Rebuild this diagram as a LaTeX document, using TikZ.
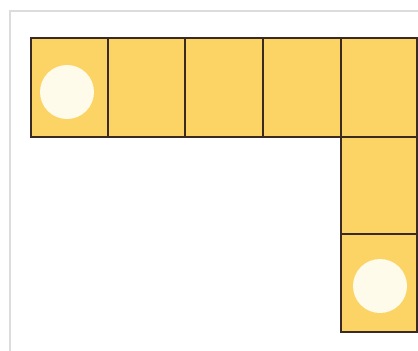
\documentclass[tikz,border=0pt]{standalone}
\definecolor{cellyellow}{HTML}{FBD465}
\definecolor{cream}{HTML}{FFFBEA}
\definecolor{edge}{HTML}{3A2A22}
\definecolor{frame}{HTML}{DCDCDC}
\tikzset{
  cell/.style={draw=edge, line width=1.3pt, fill=cellyellow},
  dot/.style={circle, fill=cream, minimum size=54pt, inner sep=0pt},
}
\begin{document}
\begin{tikzpicture}[x=1pt,y=-1pt]
\useasboundingbox (0,0) rectangle (418,351);
\fill[white] (0,0) rectangle (418,351);
\draw[frame, line width=1.5pt] (10,351) -- (10,11) -- (418,11);
% top row
\foreach \i/\xa/\xb in {1/31/108,2/108/185,3/185/263,4/263/341,5/341/417}{
  \draw[cell] (\xa,38) rectangle (\xb,137);
}
\draw[cell] (341,137) rectangle (417,234);
\draw[cell] (341,234) rectangle (417,332);
\node[dot] (d1) at (67,92) {};
\node[dot] (d2) at (380,286) {};
\end{tikzpicture}
\end{document}
